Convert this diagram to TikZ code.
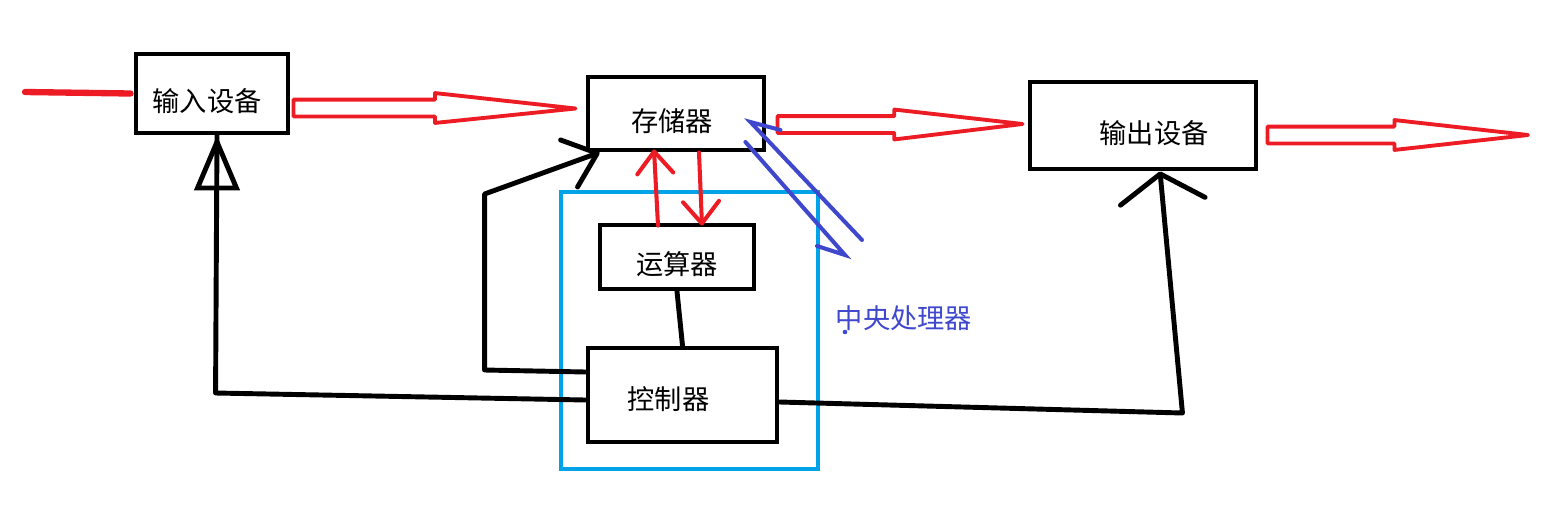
\documentclass[tikz,border=0pt]{standalone}
\usepackage{fontspec}
\setmainfont{Noto Sans CJK SC}
\usetikzlibrary{calc, arrows.meta}
\definecolor{pred}{HTML}{ED1C24}
\definecolor{pblue}{HTML}{00A2E8}
\definecolor{pindigo}{HTML}{3F48CC}

\newcommand{\fatarrow}[3]{%
  \draw[fat] let \p1=(#1), \p2=(#2) in
    (\x1,\y1+4.8pt) -- (\x2-#3,\y1+4.8pt) -- (\x2-#3,\y1+8.5pt) -- (\x2,\y2)
    -- (\x2-#3,\y1-8.5pt) -- (\x2-#3,\y1-4.8pt) -- (\x1,\y1-4.8pt) -- cycle;}

\begin{document}
\begin{tikzpicture}[x=0.02cm, y=-0.02cm,
    box/.style={rectangle, draw, line width=2.8pt, font=\fontsize{15.5}{18}\selectfont, text height=20pt, text depth=0pt, inner sep=0pt},
    fat/.style={draw=pred, line width=2.2pt, line join=round},
    redline/.style={draw=pred, line width=2.3pt, line cap=round},
    blk/.style={line width=2.8pt, line cap=round, line join=round},
    bline/.style={draw=pindigo, line width=2.3pt, line cap=round},
  ]
  \useasboundingbox (0,0) rectangle (1559,508);

  \node[box, minimum width=3.04cm, minimum height=1.58cm] (in) at (212,93.5) {输入设备\kern0.2cm};
  \node[box, minimum width=3.52cm, minimum height=1.46cm] (mem) at (676,113.5) {存储器\kern0.16cm};
  \node[box, minimum width=4.52cm, minimum height=1.74cm] (out) at (1143,125.5) {\kern0.44cm输出设备};
  \node[box, minimum width=3.08cm, minimum height=1.28cm] (alu) at (677,257) {运算器};
  \node[box, minimum width=3.78cm, minimum height=1.88cm, text height=16pt] (ctl) at (682.5,395) {控制器\kern0.56cm};
  \node[draw=pblue, line width=2.2pt, minimum width=5.14cm, minimum height=5.54cm] (cpu) at (689.5,330.5) {};
  \node[text=pindigo, font=\fontsize{15.5}{18}\selectfont] (cpulbl) at (904,318) {中央处理器};
  \fill[pindigo] (845,332) circle (1.3pt);

  \coordinate (src) at (25,92);
  \coordinate (sink) at (1528,135);

  % data flow
  \draw[redline, line width=3.6pt] (src) -- ($(in.west)+(-3,0)$);
  \fatarrow{$(in.east)+(3,14.5)$}{$(mem.west)+(-10,-5)$}{80pt}
  \fatarrow{$(mem.east)+(11,11)$}{$(out.west)+(-5,-1.5)$}{73pt}
  \fatarrow{$(out.east)+(9,9.5)$}{sink}{76pt}
  \draw[redline, -{Straight Barb[round, length=4.4mm, width=7.2mm]}] ($(alu.north)+(-19,3)$) -- ($(mem.south)+(-22,-3)$);
  \draw[redline, -{Straight Barb[round, length=4.4mm, width=7.2mm]}] ($(mem.south)+(23,0)$) -- ($(alu.north)+(25,3)$);

  % control signals
  \draw[blk, -{Straight Barb[round, length=6mm, width=10mm]}] ($(ctl.west)+(0,-23)$) -- ++(-101,-2) -- ++(0,-176) -- ($(mem.south west)+(14,0)$);
  \draw[blk] ($(ctl.west)+(0,5)$) -- ++(-370,-7) -- ($(in.south)+(5,0)$);
  \draw[blk, -{Triangle[open, length=11mm, width=9mm]}] ($(in.south)+(5,55)$) -- ($(in.south)+(5,0)$);
  \draw[blk, -{Straight Barb[round, length=5.5mm, width=17mm]}] ($(ctl.east)+(0,7)$) -- ++(403,11) -- ($(out.south)+(17,0)$);
  \draw[blk] (alu.south) -- (ctl.north);

  % cpu link
  \coordinate (b1) at ($(mem.east)+(-16,8.5)$);
  \coordinate (b2) at (862,240);
  \coordinate (b3) at ($(mem.east)+(-21,28.5)$);
  \coordinate (b4) at (845,255);
  \draw[bline] ($(b1)+(30,8)$) -- (b1) -- (b2);
  \draw[bline] (b3) -- (b4) -- ++(-28,-9);
\end{tikzpicture}
\end{document}
